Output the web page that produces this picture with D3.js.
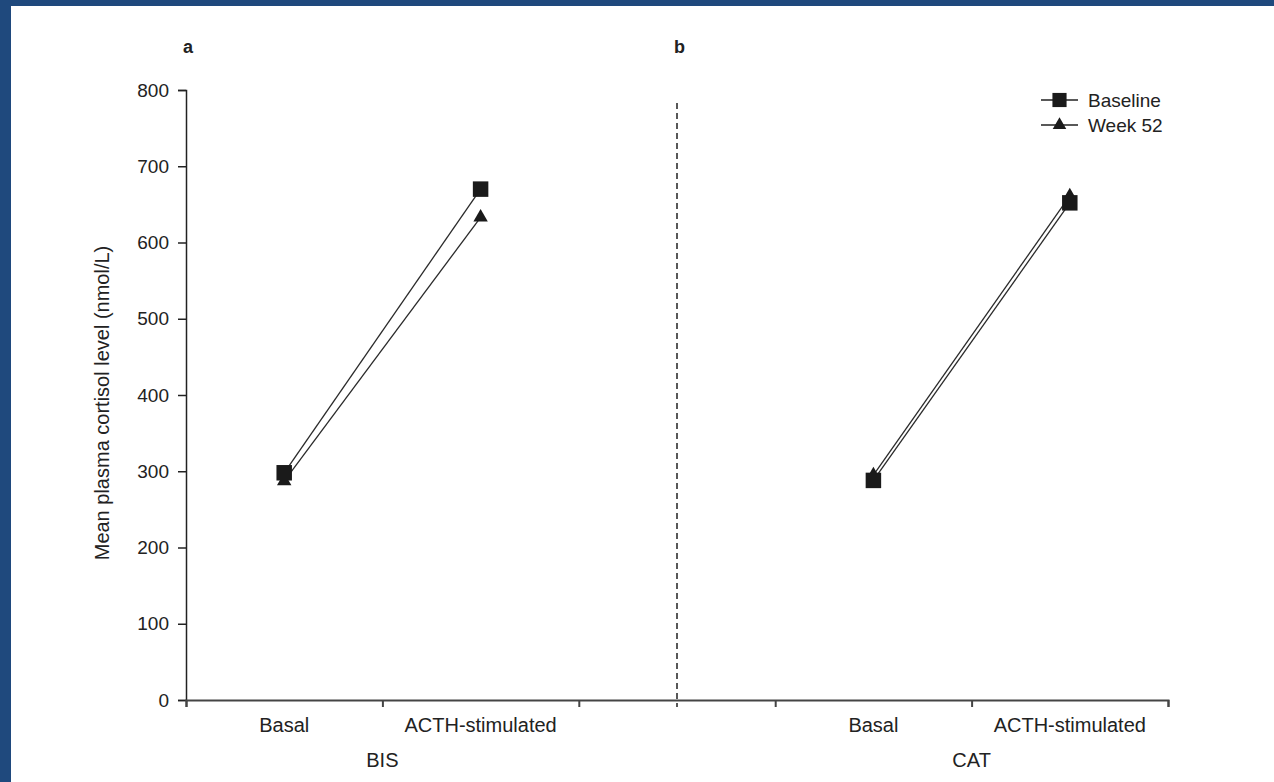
<!DOCTYPE html>
<html>
<head>
<meta charset="utf-8">
<script src="https://cdn.jsdelivr.net/npm/d3@7"></script>
<style>
  body { margin: 0; background: #fff; }
  svg { display: block; font-family: "Liberation Sans", Arial, sans-serif; }
</style>
</head>
<body>
<script>
const groups = ["BIS", "CAT"]
const panels = ["a", "b"]
const conditions = ["Basal", "ACTH-stimulated"]
const seriesNames = ["Baseline", "Week 52"]
// values per group: [Basal, ACTH-stimulated]
const baseline = [[298, 670], [288, 652]]
const week52 = [[287, 633], [295, 661]]
const yTicks = [0, 100, 200, 300, 400, 500, 600, 700, 800]

const width = 1274
const height = 782
const marginLeft = 186
const marginRight = 106
const marginTop = 90
const marginBottom = 82

const ink = "#222"

const svg = d3.select("body").append("svg")
    .attr("width", width)
    .attr("height", height)

// blue frame on left/top
svg.append("rect").attr("width", width).attr("height", height).attr("fill", "#1f497d")
svg.append("rect").attr("x", 11).attr("y", 6).attr("width", width - 11).attr("height", height - 6).attr("fill", "#fff")

const x = d3.scaleLinear([0, 10], [marginLeft, width - marginRight])
const y = d3.scaleLinear([0, 800], [height - marginBottom, marginTop])

// slot on the x scale: each group spans 4 units, with a 2 unit gap around the divider
const slot = (g, c) => g * 6 + 1 + c * 2

// y axis
svg.append("g")
    .attr("transform", `translate(${marginLeft},0)`)
    .call(d3.axisLeft(y).tickValues(yTicks).tickSize(8).tickSizeOuter(8).tickPadding(9))
    .call(g => g.selectAll("path, line").attr("stroke", ink).attr("stroke-width", 1.5))
    .call(g => g.selectAll("text").attr("fill", ink).attr("font-size", 19).attr("font-family", null))

svg.append("text")
    .attr("transform", `translate(104,${y(400) + 8}) rotate(-90)`)
    .attr("text-anchor", "middle")
    .attr("dominant-baseline", "middle")
    .attr("fill", ink)
    .attr("font-size", 20)
    .text("Mean plasma cortisol level (nmol/L)")

// x axis
svg.append("g")
    .attr("transform", `translate(0,${y(0)})`)
    .call(d3.axisBottom(x).tickValues([0, 2, 4, 6, 8, 10]).tickSize(7).tickSizeOuter(7).tickFormat(""))
    .call(g => g.selectAll("path, line").attr("stroke", "#444").attr("stroke-width", 2))

// category labels
groups.forEach((grp, g) => {
    conditions.forEach((c, ci) => {
        svg.append("text")
            .attr("x", x(slot(g, ci)))
            .attr("y", y(0) + 32)
            .attr("text-anchor", "middle")
            .attr("fill", ink)
            .attr("font-size", 20)
            .text(c)
    })
    svg.append("text")
        .attr("x", x(slot(g, 0.5)))
        .attr("y", y(0) + 67)
        .attr("text-anchor", "middle")
        .attr("fill", ink)
        .attr("font-size", 20)
        .text(grp)

    svg.append("text")
        .attr("x", x(g * 5) - 3)
        .attr("y", 53)
        .attr("fill", ink)
        .attr("font-size", 18)
        .attr("font-weight", "bold")
        .text(panels[g])
})

// divider
svg.append("line")
    .attr("x1", x(5)).attr("x2", x(5))
    .attr("y1", 103).attr("y2", y(0) + 7)
    .attr("stroke", ink)
    .attr("stroke-width", 1.5)
    .attr("stroke-dasharray", "6,4")

const symbols = [d3.symbol(d3.symbolSquare, 240), d3.symbol(d3.symbolTriangle, 90)]
const series = [baseline, week52]

const line = d3.line()

series.forEach((vals, s) => {
    vals.forEach((pair, g) => {
        const pts = pair.map((v, ci) => [x(slot(g, ci)), y(v)])
        svg.append("path")
            .attr("d", line(pts))
            .attr("fill", "none")
            .attr("stroke", "#2a2a2a")
            .attr("stroke-width", 1.3)
    })
})

// triangles first, squares on top
;[1, 0].forEach(s => {
    series[s].forEach((pair, g) => {
        pair.forEach((v, ci) => {
            svg.append("path")
                .attr("transform", `translate(${x(slot(g, ci))},${y(v)})`)
                .attr("d", symbols[s]())
                .attr("fill", "#1a1a1a")
        })
    })
})

// legend
const legend = svg.append("g").attr("transform", "translate(1041,100)")
seriesNames.forEach((name, s) => {
    const row = legend.append("g").attr("transform", `translate(0,${s * 25})`)
    row.append("line").attr("x1", 0).attr("x2", 37).attr("stroke", ink).attr("stroke-width", 1.5)
    row.append("path")
        .attr("transform", "translate(18.5,0)")
        .attr("d", s === 0 ? d3.symbol(d3.symbolSquare, 200)() : d3.symbol(d3.symbolTriangle, 80)())
        .attr("fill", "#1a1a1a")
    row.append("text")
        .attr("x", 47)
        .attr("dy", "0.35em")
        .attr("fill", ink)
        .attr("font-size", 19)
        .text(name)
})
</script>
</body>
</html>
